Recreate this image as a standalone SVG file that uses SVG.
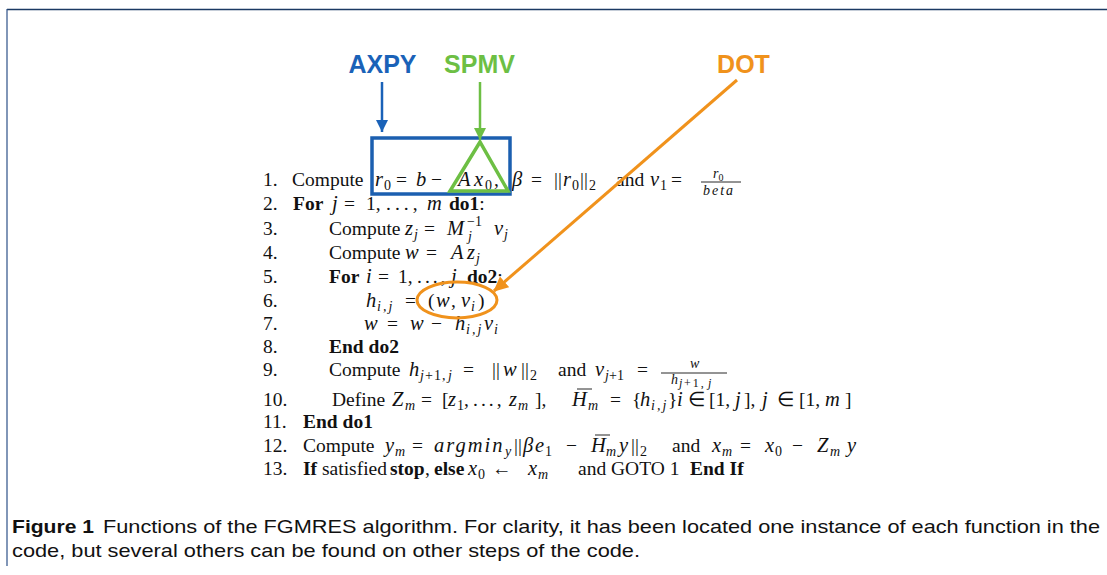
<svg xmlns="http://www.w3.org/2000/svg" width="1107" height="575" viewBox="0 0 1107 575">
<style>
.t{font-family:"Liberation Serif",serif;font-size:19.5px;fill:#111}
.it{font-style:italic}
.mi{font-style:italic;font-size:20.5px}
.b{font-weight:bold}
.sb{font-size:14px}
.ss{font-size:12px}
.sp{letter-spacing:2px}
.dots{letter-spacing:4px}
.lab{font-family:"Liberation Sans",Arial,sans-serif;font-weight:bold;font-size:25px;text-anchor:middle}
.cap{font-family:"Liberation Sans",Arial,sans-serif;font-size:19px;fill:#111}
.bar{stroke:#111;stroke-width:0.9}
</style>
<defs>
<marker id="hb" markerUnits="userSpaceOnUse" markerWidth="12" markerHeight="14" refX="12" refY="6" orient="auto"><path d="M0,0 L12,6 L0,12 z" fill="#1a62b8"/></marker>
<marker id="hg" markerUnits="userSpaceOnUse" markerWidth="12" markerHeight="14" refX="12" refY="6" orient="auto"><path d="M0,0 L12,6 L0,12 z" fill="#6dbf44"/></marker>
<marker id="ho" markerUnits="userSpaceOnUse" markerWidth="16" markerHeight="14" refX="14" refY="7" orient="auto"><path d="M0,0 L15,7 L0,14 z" fill="#f0921c"/></marker>
</defs>
<g id="frame" fill="none">
<line x1="7" y1="9.5" x2="1107" y2="9.5" stroke="#1b3a63" stroke-width="1.5"/>
<line x1="7" y1="9" x2="7" y2="566" stroke="#2d5088" stroke-width="1.2"/>
</g>
<g id="label-axpy"><text class="lab" x="382.5" y="73" fill="#1a62b8">AXPY</text></g>
<g id="label-spmv"><text class="lab" x="479.5" y="73" fill="#6dbf44">SPMV</text></g>
<g id="label-dot"><text class="lab" x="743.5" y="73" fill="#f0921c">DOT</text></g>
<g id="algorithm" class="t">
<text y="186"><tspan x="263">1.</tspan><tspan x="292">Compute</tspan><tspan x="375" class="mi">r</tspan><tspan x="384" y="190" class="sb">0</tspan><tspan x="396" y="186">=</tspan><tspan x="416" class="mi">b</tspan><tspan x="431">−</tspan><tspan x="458" class="mi">A</tspan><tspan x="474" class="mi">x</tspan><tspan x="485" y="190" class="sb">0</tspan><tspan x="494" y="186">,</tspan><tspan x="512" class="mi">β</tspan><tspan x="531">=</tspan><tspan x="554">||</tspan><tspan x="563" class="mi">r</tspan><tspan x="572" y="190" class="sb">0</tspan><tspan x="580" y="186">||</tspan><tspan x="589" y="190" class="sb">2</tspan><tspan x="616" y="186">and</tspan><tspan x="650" class="mi">v</tspan><tspan x="660" y="190" class="sb">1</tspan><tspan x="671" y="186">=</tspan></text>
<text y="178" x="713" class="sb it">r<tspan dy="3" font-style="normal" font-size="10">0</tspan></text>
<line class="bar" x1="701" y1="182" x2="741" y2="182"/>
<text y="195" x="703" class="sb it sp">beta</text>

<text y="210"><tspan x="263">2.</tspan><tspan x="293" class="b">For</tspan><tspan x="332" class="mi">j</tspan><tspan x="344">=</tspan><tspan x="366">1,</tspan><tspan x="386" class="dots">...,</tspan><tspan x="427" class="mi">m</tspan><tspan x="449" class="b">do1</tspan><tspan>:</tspan></text>

<text y="235"><tspan x="263">3.</tspan><tspan x="329">Compute</tspan><tspan x="405" class="mi">z</tspan><tspan x="414" y="239" class="sb it">j</tspan><tspan x="424" y="235">=</tspan><tspan x="447" class="mi">M</tspan><tspan x="467" y="226" class="sb">−1</tspan><tspan x="468" y="241" class="sb it">j</tspan><tspan x="494" y="235" class="mi">v</tspan><tspan x="504" y="239" class="sb it">j</tspan></text>

<text y="259"><tspan x="263">4.</tspan><tspan x="329">Compute</tspan><tspan x="405" class="mi">w</tspan><tspan x="426">=</tspan><tspan x="451" class="mi">A</tspan><tspan x="467" class="mi">z</tspan><tspan x="476" y="263" class="sb it">j</tspan></text>

<text y="283"><tspan x="263">5.</tspan><tspan x="329" class="b">For</tspan><tspan x="366" class="mi">i</tspan><tspan x="378">=</tspan><tspan x="398">1,</tspan><tspan x="417" style="letter-spacing:3px">...,</tspan><tspan x="451" class="mi">j</tspan><tspan x="467" class="b">do2</tspan><tspan>:</tspan></text>

<text y="307"><tspan x="263">6.</tspan><tspan x="366" class="mi">h</tspan><tspan x="377" y="311" class="sb it sp">i,j</tspan><tspan x="405" y="307">=</tspan><tspan x="428">(</tspan><tspan x="436" class="mi">w</tspan><tspan x="451">,</tspan><tspan x="461" class="mi">v</tspan><tspan x="471" y="311" class="sb it">i</tspan><tspan x="478" y="307">)</tspan></text>

<text y="330"><tspan x="263">7.</tspan><tspan x="364" class="mi">w</tspan><tspan x="387">=</tspan><tspan x="410" class="mi">w</tspan><tspan x="431">−</tspan><tspan x="455" class="mi">h</tspan><tspan x="466" y="334" class="sb it sp">i,j</tspan><tspan x="484" y="330" class="mi">v</tspan><tspan x="494" y="334" class="sb it">i</tspan></text>

<text y="353"><tspan x="263">8.</tspan><tspan x="329" class="b">End do2</tspan></text>

<text y="376"><tspan x="263">9.</tspan><tspan x="329">Compute</tspan><tspan x="409" class="mi">h</tspan><tspan x="420" y="380" class="sb it">j</tspan><tspan x="425" y="380" class="sb" style="letter-spacing:1px">+1,</tspan><tspan x="448" y="380" class="sb it">j</tspan><tspan x="463" y="376">=</tspan><tspan x="492">||</tspan><tspan x="503" class="mi">w</tspan><tspan x="521">||</tspan><tspan x="530" y="380" class="sb">2</tspan><tspan x="558" y="376">and</tspan><tspan x="595" class="mi">v</tspan><tspan x="605" y="380" class="sb it">j</tspan><tspan x="609" y="380" class="sb">+1</tspan><tspan x="637" y="376">=</tspan></text>
<text y="368" x="690" class="sb it">w</text>
<line class="bar" x1="661" y1="373" x2="727" y2="373"/>
<text y="384" font-size="14"><tspan x="671" class="it">h</tspan><tspan x="679" y="387" class="ss it">j</tspan><tspan x="684" y="387" class="ss" style="letter-spacing:2px">+1,</tspan><tspan x="708" y="387" class="ss it">j</tspan></text>

<text y="406"><tspan x="263">10.</tspan><tspan x="332">Define</tspan><tspan x="392" class="mi">Z</tspan><tspan x="405" y="410" class="sb it">m</tspan><tspan x="421" y="406">=</tspan><tspan x="442">[</tspan><tspan x="448" class="mi">z</tspan><tspan x="457" y="410" class="sb">1</tspan><tspan x="464" y="406">,</tspan><tspan x="473" style="letter-spacing:3px">...,</tspan><tspan x="509" class="mi">z</tspan><tspan x="518" y="410" class="sb it">m</tspan><tspan x="535" y="406">],</tspan><tspan x="572" class="mi">H</tspan><tspan x="588" y="410" class="sb it">m</tspan><tspan x="610" y="406">=</tspan><tspan x="632">{</tspan><tspan x="640" class="mi">h</tspan><tspan x="651" y="410" class="sb it sp">i,j</tspan><tspan x="668" y="406">}</tspan><tspan x="677" class="mi">i</tspan><tspan x="688">∈</tspan><tspan x="709">[1,</tspan><tspan x="735" class="mi">j</tspan><tspan x="744">],</tspan><tspan x="762" class="mi">j</tspan><tspan x="777">∈</tspan><tspan x="799">[1,</tspan><tspan x="825" class="mi">m</tspan><tspan x="845">]</tspan></text>
<line class="bar" x1="577" y1="389" x2="592" y2="389"/>

<text y="428"><tspan x="263">11.</tspan><tspan x="303" class="b">End do1</tspan></text>

<text y="452"><tspan x="263">12.</tspan><tspan x="303">Compute</tspan><tspan x="385" class="mi">y</tspan><tspan x="395" y="456" class="sb it">m</tspan><tspan x="412" y="452">=</tspan><tspan x="434" class="mi sp">argmin</tspan><tspan x="505" y="456" class="sb it">y</tspan><tspan x="514" y="452">||</tspan><tspan x="523" class="mi">β</tspan><tspan x="535" class="mi">e</tspan><tspan x="545" y="456" class="sb">1</tspan><tspan x="566" y="452">−</tspan><tspan x="591" class="mi">H</tspan><tspan x="606" y="456" class="sb it">m</tspan><tspan x="619" y="452" class="mi">y</tspan><tspan x="631">||</tspan><tspan x="640" y="456" class="sb">2</tspan><tspan x="672" y="452">and</tspan><tspan x="712" class="mi">x</tspan><tspan x="722" y="456" class="sb it">m</tspan><tspan x="740" y="452">=</tspan><tspan x="765" class="mi">x</tspan><tspan x="775" y="456" class="sb">0</tspan><tspan x="792" y="452">−</tspan><tspan x="817" class="mi">Z</tspan><tspan x="830" y="456" class="sb it">m</tspan><tspan x="847" y="452" class="mi">y</tspan></text>
<line class="bar" x1="595" y1="435" x2="610" y2="435"/>

<text y="475"><tspan x="263">13.</tspan><tspan x="303" class="b">If</tspan><tspan x="322">satisfied</tspan><tspan x="390" class="b">stop</tspan><tspan x="425">,</tspan><tspan x="434" class="b">else</tspan><tspan x="468" class="mi">x</tspan><tspan x="478" y="479" class="sb">0</tspan><tspan x="492" y="475">←</tspan><tspan x="528" class="mi">x</tspan><tspan x="538" y="479" class="sb it">m</tspan><tspan x="578" y="475">and GOTO 1</tspan><tspan x="690" class="b">End If</tspan></text>
</g>
<g id="box-axpy"><rect x="372" y="138" width="138" height="56" fill="none" stroke="#1b5fb0" stroke-width="3.5"/></g>
<g id="tri-spmv"><polygon points="480,142 450,191 508,191" fill="none" stroke="#6dbf44" stroke-width="3.5"/></g>
<g id="ellipse-dot"><ellipse cx="457" cy="300" rx="40" ry="18" fill="none" stroke="#f0921c" stroke-width="3"/></g>
<g id="connectors" fill="none">
<line x1="382" y1="82" x2="382" y2="132" stroke="#1a62b8" stroke-width="2.5" marker-end="url(#hb)"/>
<line x1="480" y1="82" x2="480" y2="140" stroke="#6dbf44" stroke-width="2.5" marker-end="url(#hg)"/>
<line x1="737" y1="80" x2="494" y2="291" stroke="#f0921c" stroke-width="3" marker-end="url(#ho)"/>
</g>
<g id="caption">
<text class="cap" y="533" x="12" font-weight="bold" textLength="82" lengthAdjust="spacingAndGlyphs">Figure 1</text>
<text class="cap" y="533" x="103" textLength="997" lengthAdjust="spacingAndGlyphs">Functions of the FGMRES algorithm. For clarity, it has been located one instance of each function in the</text>
<text class="cap" y="557" x="12" textLength="628" lengthAdjust="spacingAndGlyphs">code, but several others can be found on other steps of the code.</text>
</g>
</svg>
